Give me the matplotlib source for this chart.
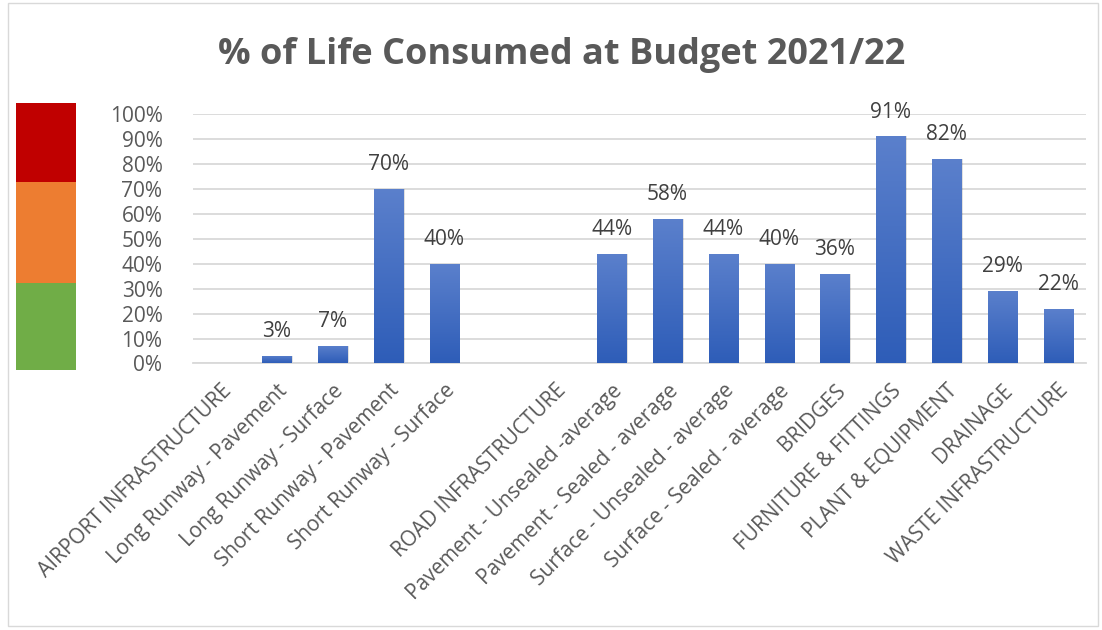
import matplotlib
matplotlib.use("Agg")
import matplotlib.pyplot as plt
import numpy as np
from matplotlib.patches import Rectangle
from matplotlib.colors import LinearSegmentedColormap

categories = ["AIRPORT INFRASTRUCTURE", "Long Runway - Pavement", "Long Runway - Surface",
              "Short Runway - Pavement", "Short Runway - Surface", "",
              "ROAD INFRASTRUCTURE", "Pavement - Unsealed -average", "Pavement - Sealed - average",
              "Surface - Unsealed - average", "Surface - Sealed - average", "BRIDGES",
              "FURNITURE & FITTINGS", "PLANT & EQUIPMENT", "DRAINAGE", "WASTE INFRASTRUCTURE"]
values = [None, 3, 7, 70, 40, None, None, 44, 58, 44, 40, 36, 91, 82, 29, 22]
yticks = [0, 10, 20, 30, 40, 50, 60, 70, 80, 90, 100]
title = "% of Life Consumed at Budget 2021/22"

plt.rcParams['font.family'] = ['Open Sans', 'DejaVu Sans']
gray = '#595959'

fig = plt.figure(figsize=(11.02, 6.30), dpi=100)
ax = fig.add_axes([193/1102, 1-363.5/630, (1086-193)/1102, (363.5-114)/630])

x = np.arange(len(categories))
width = 0.52
grad = np.linspace(0, 1, 256).reshape(-1, 1)
cmap = LinearSegmentedColormap.from_list('g', ['#2E5DB8', '#5B80CC'])
for xi, v in zip(x, values):
    if v is None:
        continue
    sh = Rectangle((xi - width/2 + 0.03, 0), width, v, facecolor='#000000', alpha=0.12,
                   edgecolor='none', zorder=2)
    ax.add_patch(sh)
    r = Rectangle((xi - width/2, 0), width, v, facecolor='none', edgecolor='none', zorder=3)
    ax.add_patch(r)
    im = ax.imshow(grad, extent=(xi - width/2, xi + width/2, 0, v), origin='lower',
                   cmap=cmap, aspect='auto', zorder=3)
    im.set_clip_path(r)
    ax.text(xi, v + 5.5, f"{v}%", ha='center', va='bottom', fontsize=15, color='#404040',
            clip_on=False)

ax.set_xlim(-0.5, len(categories) - 0.5)
ax.set_ylim(0, 100)
ax.set_yticks(yticks)
ax.set_yticklabels([f"{t}%" for t in yticks], fontsize=15, color=gray)
ax.set_xticks(x)
ax.set_xticklabels(categories, rotation=45, ha='right', rotation_mode='anchor',
                   fontsize=15, color=gray)
ax.tick_params(axis='both', length=0)
ax.tick_params(axis='y', pad=22)
ax.tick_params(axis='x', pad=12)
ax.yaxis.grid(True, color='#D9D9D9', linewidth=1.3, zorder=0)
ax.set_axisbelow(True)
for s in ['top', 'right', 'left']:
    ax.spines[s].set_visible(False)
ax.spines['bottom'].set_color('#D9D9D9')
ax.spines['bottom'].set_linewidth(1.3)
ax.set_facecolor('none')

bands = [(102.7, 182, '#C00000'), (182, 282.7, '#ED7D31'), (282.7, 370, '#70AD47')]
for top, bot, c in bands:
    fig.patches.append(Rectangle((15.5/1102, 1-bot/630), 60/1102, (bot-top)/630,
                                 transform=fig.transFigure, facecolor=c, edgecolor='none'))

fig.patches.append(Rectangle((8/1102, 1-626/630), 1090/1102, 623/630, transform=fig.transFigure,
                             facecolor='none', edgecolor='#D9D9D9', linewidth=1))

fig.text(562/1102, 1-55/630, title, ha='center', va='center', fontsize=26,
         fontweight='bold', color=gray)

fig.savefig('out.png', dpi=100)
